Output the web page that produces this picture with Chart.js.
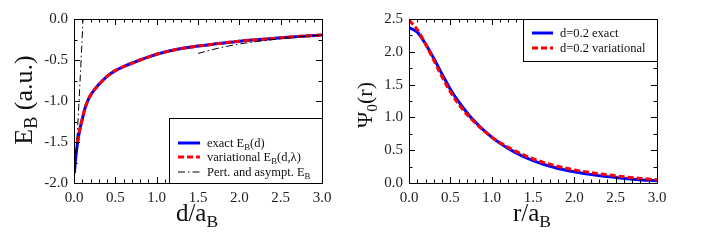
<!DOCTYPE html>
<html>
<head>
<meta charset="utf-8">
<script src="https://cdn.jsdelivr.net/npm/chart.js@4.4.1/dist/chart.umd.min.js"></script>
<style>
  html, body { margin: 0; padding: 0; background: #fff; }
  #wrap { position: relative; width: 713px; height: 241px; overflow: hidden; }
  .pane { position: absolute; top: 0; }
</style>
</head>
<body>
<div id="wrap">
  <canvas id="left" class="pane" width="360" height="241" style="left:0"></canvas>
  <canvas id="right" class="pane" width="368" height="241" style="left:345px"></canvas>
</div>
<script>
// left panel: binding energy vs d
const dExact = [0.005, 0.02, 0.044, 0.07, 0.1, 0.13, 0.165, 0.2, 0.25, 0.3, 0.4, 0.5, 0.6, 0.8, 1.0, 1.25, 1.5, 1.75, 2.0, 2.25, 2.5, 2.75, 3.0];
const eExact = [-1.88, -1.70, -1.50, -1.35, -1.22, -1.10, -1.00, -0.93, -0.86, -0.80, -0.70, -0.63, -0.58, -0.50, -0.43, -0.37, -0.33, -0.30, -0.27, -0.25, -0.23, -0.21, -0.195];
const dVar = [0.044, 0.07, 0.1, 0.13, 0.165, 0.2, 0.25, 0.3, 0.4, 0.5, 0.6, 0.8, 1.0, 1.25, 1.5, 1.75, 2.0, 2.25, 2.5, 2.75, 3.0];
const eVar = [-1.50, -1.35, -1.22, -1.10, -1.00, -0.93, -0.86, -0.80, -0.70, -0.63, -0.58, -0.50, -0.43, -0.37, -0.33, -0.30, -0.27, -0.25, -0.23, -0.21, -0.195];
const dPert = [0.0, 0.033, 0.052, 0.073, 0.10, 0.109];
const ePert = [-2.0, -1.5, -1.17, -0.76, -0.195, 0.0];
const dAsym = [1.5, 1.75, 2.0, 2.25, 2.5, 2.75, 3.0];
const eAsym = [-0.42, -0.355, -0.305, -0.27, -0.24, -0.215, -0.195];

// right panel: wave function, d = 0.2
const rVals = [0, 0.1, 0.2, 0.3, 0.4, 0.5, 0.6, 0.75, 1.0, 1.25, 1.5, 1.75, 2.0, 2.25, 2.5, 2.75, 3.0];
const psiExact = [2.37, 2.30, 2.12, 1.90, 1.66, 1.43, 1.24, 1.00, 0.70, 0.49, 0.34, 0.24, 0.17, 0.12, 0.085, 0.055, 0.035];
const psiVar = [2.48, 2.34, 2.12, 1.87, 1.62, 1.39, 1.20, 0.98, 0.70, 0.51, 0.37, 0.27, 0.20, 0.15, 0.11, 0.075, 0.05];

const FONT = '"Liberation Serif", "Times New Roman", "DejaVu Serif", serif';
const BLUE = '#0000ff';
const RED = '#ff0000';

function pts(xs, ys) {
  return xs.map((x, i) => ({ x: x, y: ys[i] }));
}

// text with subscripts: parts = [[text, isSub], ...]
function measureRich(ctx, parts, size) {
  let w = 0;
  parts.forEach(p => {
    ctx.font = (p[1] ? size * 0.7 : size) + 'px ' + FONT;
    w += ctx.measureText(p[0]).width;
  });
  return w;
}
function drawRich(ctx, parts, x, y, size, align) {
  let cx = x;
  if (align === 'center') cx = x - measureRich(ctx, parts, size) / 2;
  ctx.textAlign = 'left';
  ctx.textBaseline = 'alphabetic';
  parts.forEach(p => {
    ctx.font = (p[1] ? size * 0.7 : size) + 'px ' + FONT;
    ctx.fillText(p[0], cx, p[1] ? y + size * 0.22 : y);
    cx += ctx.measureText(p[0]).width;
  });
}

const decor = {
  id: 'decor',
  afterDraw(chart, args, o) {
    const ctx = chart.ctx;
    const a = chart.chartArea;
    const xs = chart.scales.x, ys = chart.scales.y;
    ctx.save();
    ctx.strokeStyle = '#000';
    ctx.lineWidth = 1;

    // inward ticks on all four sides
    function ticks(scale, step, horiz) {
      const n = Math.round((scale.max - scale.min) / step);
      for (let i = 0; i <= n; i++) {
        const v = scale.min + i * step;
        const major = Math.abs(v / 0.5 - Math.round(v / 0.5)) < 1e-6;
        const len = major ? 6 : 3.5;
        const p = Math.round(scale.getPixelForValue(v)) + 0.5;
        ctx.beginPath();
        if (horiz) {
          ctx.moveTo(p, a.bottom); ctx.lineTo(p, a.bottom - len);
          ctx.moveTo(p, a.top); ctx.lineTo(p, a.top + len);
        } else {
          ctx.moveTo(a.left, p); ctx.lineTo(a.left + len, p);
          ctx.moveTo(a.right, p); ctx.lineTo(a.right - len, p);
        }
        ctx.stroke();
      }
    }
    ticks(xs, o.xMinor, true);
    ticks(ys, o.yMinor, false);
    ctx.strokeRect(Math.round(a.left) + 0.5, Math.round(a.top) + 0.5, Math.round(a.right - a.left), Math.round(a.bottom - a.top));

    // legend box
    const L = o.legend;
    ctx.fillStyle = '#fff';
    ctx.fillRect(L.x, L.y, L.w, L.h);
    ctx.strokeRect(L.x + 0.5, L.y + 0.5, L.w, L.h);
    L.items.forEach((it, i) => {
      const ds = chart.data.datasets[it.ds];
      const y = L.rows[i];
      ctx.save();
      ctx.strokeStyle = ds.borderColor;
      ctx.lineWidth = ds.borderWidth;
      ctx.setLineDash(ds.borderDash || []);
      ctx.beginPath();
      ctx.moveTo(L.lineX, y); ctx.lineTo(L.lineX + L.lineW, y);
      ctx.stroke();
      ctx.restore();
      ctx.fillStyle = '#111';
      drawRich(ctx, it.text, L.textX, y + 4, 12.5, 'left');
    });

    // axis titles
    ctx.fillStyle = '#111';
    drawRich(ctx, o.xTitle.parts, o.xTitle.x, o.xTitle.y, o.xTitle.size, 'center');
    ctx.save();
    ctx.translate(o.yTitle.x, o.yTitle.y);
    ctx.rotate(-Math.PI / 2);
    drawRich(ctx, o.yTitle.parts, 0, o.yTitle.size * 0.33, o.yTitle.size, 'center');
    ctx.restore();
    ctx.restore();
  }
};

function axis(min, max, size) {
  return {
    type: 'linear',
    min: min,
    max: max,
    grid: { display: false, drawTicks: false },
    border: { display: false },
    ticks: {
      stepSize: 0.5,
      color: '#222',
      font: { family: FONT, size: 15 },
      padding: 6,
      maxRotation: 0,
      callback: v => Number(v).toFixed(1)
    },
    afterFit: s => { if (s.isHorizontal()) s.height = size; else s.width = size; }
  };
}

function baseOptions(rightPad) {
  return {
    responsive: false,
    animation: false,
    layout: { padding: { top: 19, right: rightPad, left: 0, bottom: 0 } },
    plugins: { legend: { display: false }, tooltip: { enabled: false } },
    elements: { point: { radius: 0 }, line: { cubicInterpolationMode: 'monotone' } }
  };
}

function drawCharts() {
  // left chart
  const leftOpts = baseOptions(38);
  leftOpts.scales = { x: axis(0, 3, 58), y: axis(-2, 0, 74) };
  leftOpts.plugins.decor = {
    xMinor: 0.1, yMinor: 0.25,
    legend: {
      x: 169, y: 118, w: 153, h: 65, lineX: 178, lineW: 22, textX: 207,
      rows: [143, 157, 172],
      items: [
        { ds: 0, text: [['exact E', 0], ['B', 1], ['(d)', 0]] },
        { ds: 1, text: [['variational E', 0], ['B', 1], ['(d,λ)', 0]] },
        { ds: 2, text: [['Pert. and asympt. E', 0], ['B', 1]] }
      ]
    },
    xTitle: { parts: [['d/a', 0], ['B', 1]], x: 197, y: 221, size: 25 },
    yTitle: { parts: [['E', 0], ['B', 1], [' (a.u.)', 0]], x: 23, y: 100, size: 26 }
  };

  // order: lower value is drawn on top
  new Chart(document.getElementById('left'), {
    type: 'scatter',
    data: {
      datasets: [
        { label: 'exact', data: pts(dExact, eExact), showLine: true, borderColor: BLUE, borderWidth: 3, order: 3 },
        { label: 'variational', data: pts(dVar, eVar), showLine: true, borderColor: RED, borderWidth: 3, borderDash: [6, 3], order: 2 },
        { label: 'pert', data: pts(dPert, ePert), showLine: true, borderColor: '#000', borderWidth: 1, borderDash: [7, 3, 1.5, 3], order: 1 },
        { label: 'asym', data: pts(dAsym, eAsym), showLine: true, borderColor: '#000', borderWidth: 1, borderDash: [7, 3, 1.5, 3], order: 0 }
      ]
    },
    options: leftOpts,
    plugins: [decor]
  });

  // right chart
  const rightOpts = baseOptions(56);
  rightOpts.scales = { x: axis(0, 3, 58), y: axis(0, 2.5, 64) };
  rightOpts.plugins.decor = {
    xMinor: 0.1, yMinor: 0.25,
    legend: {
      x: 178, y: 19, w: 134, h: 42, lineX: 187, lineW: 21, textX: 215,
      rows: [33, 48],
      items: [
        { ds: 0, text: [['d=0.2 exact', 0]] },
        { ds: 1, text: [['d=0.2 variational', 0]] }
      ]
    },
    xTitle: { parts: [['r/a', 0], ['B', 1]], x: 187, y: 221, size: 25 },
    yTitle: { parts: [['Ψ', 0], ['0', 1], ['(r)', 0]], x: 20, y: 105, size: 22 }
  };

  new Chart(document.getElementById('right'), {
    type: 'scatter',
    data: {
      datasets: [
        { label: 'exact', data: pts(rVals, psiExact), showLine: true, borderColor: BLUE, borderWidth: 3, order: 2 },
        { label: 'variational', data: pts(rVals, psiVar), showLine: true, borderColor: RED, borderWidth: 3, borderDash: [6, 3], order: 1 }
      ]
    },
    options: rightOpts,
    plugins: [decor]
  });
}

if (document.fonts && document.fonts.load) {
  document.fonts.load('15px "Liberation Serif"').then(drawCharts, drawCharts);
} else {
  drawCharts();
}
</script>
</body>
</html>
